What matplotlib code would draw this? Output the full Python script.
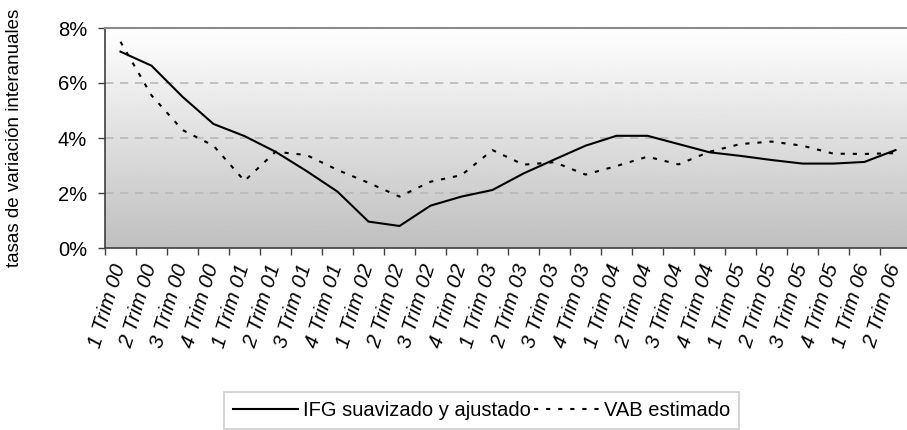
import numpy as np
import matplotlib
matplotlib.use("Agg")
import matplotlib.pyplot as plt
import matplotlib.transforms as mtransforms
from matplotlib.ticker import FuncFormatter

plt.rcParams['font.family'] = ['Liberation Sans', 'DejaVu Sans']

# quarters 1 Trim 00 .. 2 Trim 06
quarters = ['%d Trim %02d' % (q, y) for y in range(0, 7) for q in range(1, 5)][:26]

# IFG suavizado y ajustado (%)
ifg = [7.14, 6.63, 5.50, 4.51, 4.07, 3.50, 2.80, 2.05, 0.96, 0.80,
       1.54, 1.87, 2.11, 2.71, 3.22, 3.72, 4.08, 4.08, 3.78, 3.48,
       3.35, 3.20, 3.07, 3.07, 3.13, 3.56]

# VAB estimado (%)
vab = [7.50, 5.55, 4.29, 3.72, 2.44, 3.50, 3.38, 2.84, 2.37, 1.87,
       2.41, 2.65, 3.56, 3.03, 3.12, 2.67, 2.98, 3.32, 3.04, 3.50,
       3.78, 3.87, 3.72, 3.43, 3.42, 3.45]

x = np.arange(len(quarters))

fig = plt.figure(figsize=(9.07, 4.30), dpi=100)
ax = fig.add_axes([105/907, 1 - 248/430, 806/907, 220/430])

# gradient background, white at top to grey at bottom
grad = np.linspace(1.0, 0.75, 256).reshape(-1, 1)
ax.imshow(grad, cmap='gray', vmin=0, vmax=1, aspect='auto',
          extent=[-0.5, 25.5, 0, 8], origin='upper', zorder=0)

for g in [2, 4, 6]:
    ax.axhline(g, color='#b8b8b8', lw=1.2, ls=(0, (5, 4)), zorder=1)

ax.plot(x, ifg, color='black', lw=1.5, label='IFG suavizado y ajustado', zorder=3)
ax.plot(x, vab, color='black', lw=1.5, ls=(0, (2, 3.8)), label='VAB estimado', zorder=3)

ax.set_xlim(-0.5, 25.5)
ax.set_ylim(0, 8)
ax.set_yticks([0, 2, 4, 6, 8])
ax.yaxis.set_major_formatter(FuncFormatter(lambda v, p: '%d%%' % v))
ax.tick_params(axis='y', labelsize=14.5, length=5, color='#404040', width=1, pad=8)

ax.set_xticks(x)
ax.set_xticklabels(quarters, rotation=73, ha='right', va='center',
                   rotation_mode='anchor', fontsize=15, style='italic')
shift = mtransforms.ScaledTranslation(0.07, 0, fig.dpi_scale_trans)
for lab in ax.get_xticklabels():
    lab.set_transform(lab.get_transform() + shift)
ax.set_xticks(np.arange(-0.5, 26, 1), minor=True)
ax.tick_params(axis='x', which='major', length=0, pad=12)
ax.tick_params(axis='x', which='minor', length=5, color='#404040', width=1)

ax.spines['right'].set_visible(False)
ax.spines['top'].set_color('#8c8c8c')
ax.spines['top'].set_linewidth(1.5)
ax.spines['left'].set_color('#404040')
ax.spines['bottom'].set_color('#404040')
ax.spines['left'].set_linewidth(1.2)
ax.spines['bottom'].set_linewidth(1.2)

ax.set_ylabel('tasas de variación interanuales', fontsize=13.5, va='center')
ax.yaxis.set_label_coords(-0.1117, 0.5)

leg = fig.legend(loc='upper left', bbox_to_anchor=(224/907, 1 - 392/430), ncol=2,
                 fontsize=14.5, frameon=True, fancybox=False, handlelength=3.2,
                 handletextpad=0.25, columnspacing=0.2, borderpad=0.45,
                 borderaxespad=0)
leg.get_frame().set_edgecolor('#c0c0c0')
leg.get_frame().set_linewidth(1.2)

fig.savefig('out.png', dpi=100)
